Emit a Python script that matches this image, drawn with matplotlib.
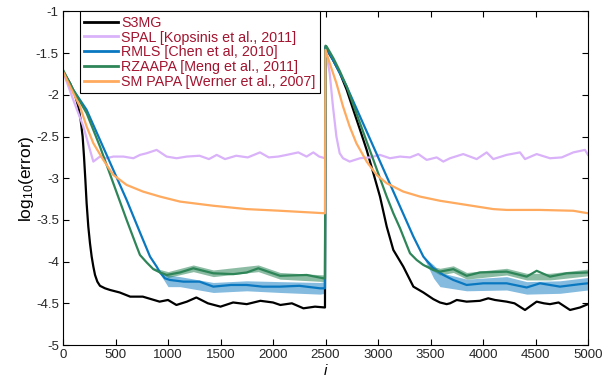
import numpy as np
import matplotlib.pyplot as plt
from matplotlib.ticker import FormatStrFormatter

plt.rcParams['font.family'] = ['Liberation Sans', 'DejaVu Sans']
plt.rcParams['mathtext.fontset'] = 'custom'
plt.rcParams['mathtext.rm'] = 'Liberation Sans'
plt.rcParams['mathtext.it'] = 'Liberation Sans:italic'
plt.rcParams['axes.unicode_minus'] = False

# S3MG
s3mg_x = [0, 67, 114, 146, 168, 187, 200, 213, 225, 241, 257, 273, 289, 305, 327, 352, 400,
          448, 540, 640, 760, 920, 1000, 1080, 1180, 1270, 1380, 1500, 1620, 1750, 1880, 2000,
          2070, 2180, 2290, 2400, 2495,
          2500, 2571, 2638, 2702, 2765, 2829, 2892, 2956, 3019, 3083, 3146, 3241, 3337, 3432,
          3527, 3590, 3654, 3686, 3750, 3844, 3971, 4050, 4114, 4225, 4300, 4400, 4511, 4580,
          4638, 4720, 4829, 4924, 5000]
s3mg_y = [-1.72, -1.86, -2.00, -2.14, -2.30, -2.50, -2.74, -3.02, -3.30, -3.58, -3.78, -3.94,
          -4.06, -4.16, -4.24, -4.29, -4.32, -4.34, -4.37, -4.42, -4.42, -4.48, -4.46, -4.52,
          -4.48, -4.43, -4.50, -4.54, -4.49, -4.51, -4.47, -4.49, -4.52, -4.50, -4.56, -4.54,
          -4.55,
          -1.43, -1.58, -1.74, -1.94, -2.18, -2.42, -2.66, -2.94, -3.22, -3.58, -3.86, -4.06,
          -4.30, -4.37, -4.45, -4.49, -4.51, -4.50, -4.46, -4.48, -4.47, -4.44, -4.46, -4.48,
          -4.50, -4.58, -4.48, -4.50, -4.51, -4.49, -4.58, -4.55, -4.51]

# SPAL
spal_x = [0, 98, 194, 257, 289, 352, 416, 479, 575, 670, 733, 797, 892, 987, 1083, 1178, 1300,
          1390, 1464, 1543, 1650, 1760, 1876, 1960, 2050, 2130, 2241, 2320, 2384, 2440, 2495,
          2500, 2540, 2571, 2604, 2635, 2667, 2730, 2829, 2924, 3019, 3114, 3210, 3305, 3384,
          3464, 3559, 3622, 3686, 3812, 3940, 4035, 4098, 4225, 4352, 4400, 4511, 4638, 4750,
          4860, 4971, 5000]
spal_y = [-1.72, -2.06, -2.38, -2.66, -2.80, -2.74, -2.76, -2.74, -2.74, -2.76, -2.72, -2.70,
          -2.66, -2.74, -2.76, -2.74, -2.73, -2.77, -2.72, -2.77, -2.73, -2.75, -2.69, -2.75,
          -2.74, -2.72, -2.69, -2.74, -2.69, -2.74, -2.76,
          -1.45, -1.74, -2.14, -2.50, -2.70, -2.76, -2.80, -2.76, -2.75, -2.72, -2.76, -2.74,
          -2.75, -2.71, -2.78, -2.75, -2.80, -2.76, -2.71, -2.77, -2.69, -2.77, -2.72, -2.69,
          -2.77, -2.71, -2.76, -2.75, -2.69, -2.66, -2.72]

# RMLS
rmls_x = [0, 98, 225, 352, 479, 606, 733, 829, 892, 924, 971, 1019, 1146, 1300, 1432, 1600,
          1749, 1900, 2067, 2250, 2448, 2495,
          2500, 2571, 2702, 2829, 2956, 3083, 3210, 3337, 3432, 3527, 3622, 3717, 3844, 4003,
          4225, 4416, 4543, 4733, 4924, 5000]
rmls_y = [-1.72, -1.94, -2.18, -2.54, -2.90, -3.26, -3.65, -3.94, -4.06, -4.13, -4.20, -4.22,
          -4.24, -4.24, -4.30, -4.28, -4.28, -4.30, -4.30, -4.29, -4.32, -4.32,
          -1.42, -1.58, -1.90, -2.26, -2.62, -2.98, -3.34, -3.70, -3.94, -4.08, -4.16, -4.22,
          -4.28, -4.26, -4.26, -4.31, -4.26, -4.30, -4.27, -4.26]
# noisy spread of RMLS in steady state (two segments)
rmls_band1_x = [900, 1000, 1114, 1432, 1749, 2067, 2448, 2495]
rmls_band1_lo = [-4.10, -4.30, -4.30, -4.37, -4.35, -4.37, -4.39, -4.38]
rmls_band1_hi = [-4.10, -4.16, -4.18, -4.25, -4.23, -4.24, -4.25, -4.24]
rmls_band2_x = [3430, 3530, 3590, 3844, 4225, 4416, 4733, 5000]
rmls_band2_lo = [-3.94, -4.20, -4.30, -4.35, -4.34, -4.39, -4.38, -4.34]
rmls_band2_hi = [-3.94, -4.04, -4.13, -4.21, -4.18, -4.24, -4.23, -4.19]

# RZAAPA
rza_x = [0, 98, 225, 352, 479, 606, 702, 733, 797, 860, 924, 987, 1114, 1241, 1432, 1622,
         1750, 1860, 2067, 2321, 2479, 2495,
         2500, 2511, 2575, 2638, 2702, 2765, 2829, 2892, 2956, 3019, 3083, 3146, 3210, 3273,
         3305, 3368, 3432, 3527, 3590, 3717, 3844, 3971, 4225, 4416, 4511, 4638, 4797, 5000]
rza_y = [-1.70, -1.94, -2.22, -2.62, -3.06, -3.50, -3.82, -3.92, -4.01, -4.09, -4.13, -4.16,
         -4.13, -4.08, -4.14, -4.15, -4.13, -4.08, -4.17, -4.16, -4.20, -4.20,
         -1.41, -1.42, -1.56, -1.72, -1.90, -2.12, -2.34, -2.56, -2.78, -3.00, -3.22, -3.42,
         -3.60, -3.80, -3.90, -3.98, -4.04, -4.10, -4.12, -4.09, -4.17, -4.13, -4.12, -4.18,
         -4.11, -4.18, -4.14, -4.13]
rza_band1_x = [850, 1000, 1241, 1432, 1860, 2067, 2495]
rza_band1_lo = [-4.07, -4.19, -4.12, -4.18, -4.12, -4.21, -4.24]
rza_band1_hi = [-4.07, -4.12, -4.04, -4.10, -4.04, -4.13, -4.16]
rza_band2_x = [3400, 3590, 3717, 3844, 4225, 4416, 4638, 5000]
rza_band2_lo = [-4.02, -4.16, -4.13, -4.21, -4.16, -4.22, -4.22, -4.17]
rza_band2_hi = [-4.02, -4.08, -4.05, -4.13, -4.08, -4.14, -4.14, -4.09]

# SM PAPA
papa_x = [0, 67, 162, 225, 289, 384, 479, 606, 762, 924, 1114, 1432, 1749, 2067, 2495,
          2500, 2540, 2604, 2667, 2730, 2794, 2892, 2987, 3083, 3241, 3400, 3590, 3844, 4098,
          4225, 4543, 4860, 5000]
papa_y = [-1.72, -1.90, -2.14, -2.38, -2.58, -2.78, -2.96, -3.08, -3.16, -3.22, -3.28, -3.33,
          -3.37, -3.39, -3.42,
          -1.46, -1.62, -1.86, -2.14, -2.38, -2.58, -2.80, -2.96, -3.06, -3.16, -3.22, -3.27,
          -3.32, -3.37, -3.38, -3.38, -3.39, -3.42]

labels = ['S3MG', 'SPAL [Kopsinis et al., 2011]', 'RMLS [Chen et al, 2010]',
          'RZAAPA [Meng et al., 2011]', 'SM PAPA [Werner et al., 2007]']

c_black = '#000000'
c_spal = '#D9B2FA'
c_rmls = '#0A78C0'
c_rza = '#2E8558'
c_papa = '#FFAA5E'

fig = plt.figure(figsize=(6.07, 3.81), dpi=100)
ax = fig.add_axes([63 / 607, 1 - 345 / 381, 525 / 607, 333.5 / 381])

lw = 1.6
ax.plot(s3mg_x, s3mg_y, color=c_black, lw=lw, label=labels[0])
ax.plot(spal_x, spal_y, color=c_spal, lw=lw, label=labels[1])
ax.fill_between(rmls_band1_x, rmls_band1_lo, rmls_band1_hi, color=c_rmls, lw=0, alpha=0.5)
ax.fill_between(rmls_band2_x, rmls_band2_lo, rmls_band2_hi, color=c_rmls, lw=0, alpha=0.5)
ax.plot(rmls_x, rmls_y, color=c_rmls, lw=lw, label=labels[2])
ax.fill_between(rza_band1_x, rza_band1_lo, rza_band1_hi, color=c_rza, lw=0, alpha=0.55)
ax.fill_between(rza_band2_x, rza_band2_lo, rza_band2_hi, color=c_rza, lw=0, alpha=0.55)
ax.plot(rza_x, rza_y, color=c_rza, lw=lw, label=labels[3])
ax.plot(papa_x, papa_y, color=c_papa, lw=lw, label=labels[4])

ax.set_xlim(0, 5000)
ax.set_ylim(-5, -1)
ax.set_xticks(np.arange(0, 5001, 500))
ax.set_yticks(np.arange(-5, -0.99, 0.5))
ax.yaxis.set_major_formatter(FormatStrFormatter('%g'))
ax.tick_params(direction='in', top=True, right=True, length=4, width=0.8,
               labelsize=9.5, labelcolor='#262626', pad=3)
for s in ax.spines.values():
    s.set_linewidth(0.8)

ax.set_xlabel('i', fontstyle='italic', fontsize=11, labelpad=2)
ax.set_ylabel('log$_{10}$(error)', fontsize=12.5, labelpad=0)

leg = ax.legend(loc='upper left', bbox_to_anchor=(0.032, 1.0), borderaxespad=0,
                fontsize=10.3, handlelength=2.4, handletextpad=0.2, labelspacing=0.05,
                borderpad=0.3, fancybox=False, framealpha=1, edgecolor='black')
leg.get_frame().set_linewidth(0.8)
for t in leg.get_texts():
    t.set_color('#A2142F')
for h in leg.get_lines():
    h.set_linewidth(2)

fig.savefig('out.png', dpi=100)
